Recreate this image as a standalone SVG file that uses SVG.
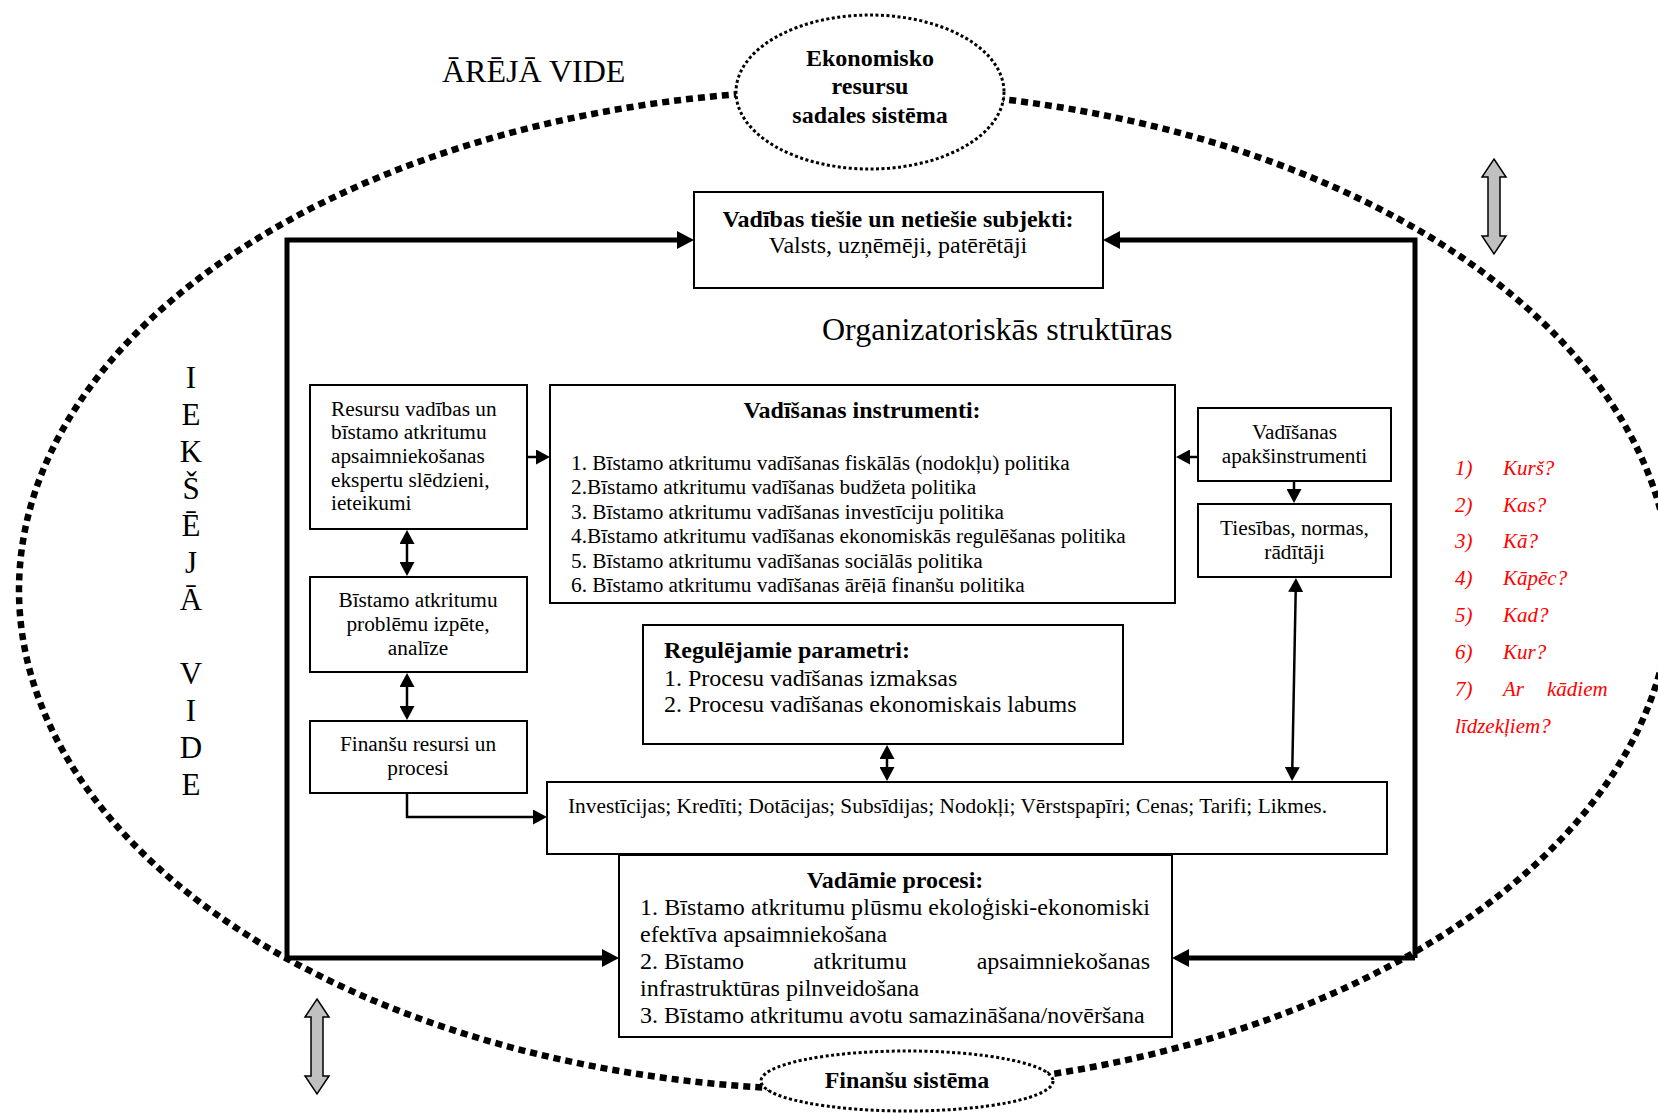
<svg xmlns="http://www.w3.org/2000/svg" width="1658" height="1113" viewBox="0 0 1658 1113">
<style>
text{font-family:'Liberation Serif','Times New Roman',serif;fill:#000}
.box{fill:#fff;stroke:#000;stroke-width:2}
.b{font-weight:bold;font-size:24px}
.t21{font-size:21.3px}
.t24{font-size:24px}
.c{text-anchor:middle}
.red{fill:#ff0000;font-style:italic;font-size:21px}
.thick{fill:none;stroke:#000;stroke-width:5}
.thin{fill:none;stroke:#000;stroke-width:2.5}
.gray{fill:#c0c0c0;stroke:#000;stroke-width:1.5}
</style>
<defs>
<marker id="ahT" markerUnits="userSpaceOnUse" markerWidth="17" markerHeight="18" refX="1" refY="9" orient="auto-start-reverse"><path d="M0,0 L17,9 L0,18 Z" fill="#000"/></marker>
<marker id="ah" markerUnits="userSpaceOnUse" markerWidth="14" markerHeight="15" refX="1" refY="7.5" orient="auto-start-reverse"><path d="M0,0 L14,7.5 L0,15 Z" fill="#000"/></marker>
<clipPath id="instClip"><rect x="551" y="386" width="623" height="207"/></clipPath>
</defs>
<rect width="1658" height="1113" fill="#fff"/>

<g id="environment">
<ellipse cx="845" cy="590" rx="826" ry="500" fill="none" stroke="#000" stroke-width="6.5" stroke-dasharray="7 5"/>
<text x="442" y="82" font-size="32">ĀRĒJĀ VIDE</text>
<g>
<text x="191" y="388" text-anchor="middle" font-size="31">I</text>
<text x="191" y="425" text-anchor="middle" font-size="31">E</text>
<text x="191" y="462" text-anchor="middle" font-size="31">K</text>
<text x="191" y="499" text-anchor="middle" font-size="31">Š</text>
<text x="191" y="536" text-anchor="middle" font-size="31">Ē</text>
<text x="191" y="573" text-anchor="middle" font-size="31">J</text>
<text x="191" y="610" text-anchor="middle" font-size="31">Ā</text>
<text x="191" y="684" text-anchor="middle" font-size="31">V</text>
<text x="191" y="721" text-anchor="middle" font-size="31">I</text>
<text x="191" y="758" text-anchor="middle" font-size="31">D</text>
<text x="191" y="795" text-anchor="middle" font-size="31">E</text>
</g>
<text x="822" y="340" font-size="32">Organizatoriskās struktūras</text>
</g>

<g id="ekonomisko">
<ellipse cx="870" cy="92" rx="134" ry="77" fill="#fff" stroke="#000" stroke-width="3" stroke-dasharray="3 2.5"/>
<text class="b c" x="870" y="66">Ekonomisko</text>
<text class="b c" x="870" y="94">resursu</text>
<text class="b c" x="870" y="123">sadales sistēma</text>
</g>

<g id="finansu-sistema">
<ellipse cx="907" cy="1081" rx="146" ry="30" fill="#fff" stroke="#000" stroke-width="3" stroke-dasharray="3 2.5"/>
<text class="b c" x="907" y="1088">Finanšu sistēma</text>
</g>

<g id="gray-arrows">
<polygon class="gray" points="1494,159 1506,177 1500,177 1500,236 1506,236 1494,254 1482,236 1488,236 1488,177 1482,177"/>
<polygon class="gray" points="317,999 329,1017 323,1017 323,1076 329,1076 317,1094 305,1076 311,1076 311,1017 305,1017"/>
</g>

<g id="connectors">
<path class="thick" d="M287,958 V240 H678" marker-end="url(#ahT)"/>
<path class="thick" d="M287,958 H603" marker-end="url(#ahT)"/>
<path class="thick" d="M1415,958 V240 H1119" marker-end="url(#ahT)"/>
<path class="thick" d="M1415,958 H1188" marker-end="url(#ahT)"/>
<path class="thin" d="M527,457 H537" marker-end="url(#ah)"/>
<path class="thin" d="M407,543 V563" marker-start="url(#ah)" marker-end="url(#ah)"/>
<path class="thin" d="M407,686 V707" marker-start="url(#ah)" marker-end="url(#ah)"/>
<path class="thin" d="M407,793 V817 H534" marker-end="url(#ah)"/>
<path class="thin" d="M1198,457 H1189" marker-end="url(#ah)"/>
<path class="thin" d="M1294,481 V490" marker-end="url(#ah)"/>
<path class="thin" stroke-width="2" d="M1295.7,591 L1292.3,768" marker-start="url(#ah)" marker-end="url(#ah)"/>
<path class="thin" d="M887,758 V768" marker-start="url(#ah)" marker-end="url(#ah)"/>
</g>

<g id="vadibas-subjekti">
<rect class="box" x="694" y="192" width="409" height="96"/>
<text class="b c" x="898" y="227">Vadības tiešie un netiešie subjekti:</text>
<text class="t24 c" x="898" y="253">Valsts, uzņēmēji, patērētāji</text>
</g>

<g id="eksperti">
<rect class="box" x="310" y="385" width="217" height="144"/>
<text class="t21" x="331" y="416">Resursu vadības un</text>
<text class="t21" x="331" y="439">bīstamo atkritumu</text>
<text class="t21" x="331" y="463">apsaimniekošanas</text>
<text class="t21" x="331" y="487">ekspertu slēdzieni,</text>
<text class="t21" x="331" y="510">ieteikumi</text>
</g>

<g id="izpete">
<rect class="box" x="310" y="577" width="217" height="95"/>
<text class="t21 c" x="418" y="607">Bīstamo atkritumu</text>
<text class="t21 c" x="418" y="631">problēmu izpēte,</text>
<text class="t21 c" x="418" y="655">analīze</text>
</g>

<g id="finansu-resursi">
<rect class="box" x="310" y="721" width="217" height="72"/>
<text class="t21 c" x="418" y="751">Finanšu resursi un</text>
<text class="t21 c" x="418" y="775">procesi</text>
</g>

<g id="instrumenti">
<rect class="box" x="550" y="385" width="625" height="218"/>
<text class="b c" x="862" y="418">Vadīšanas instrumenti:</text>
<g clip-path="url(#instClip)">
<text class="t21" x="571" y="470">1. Bīstamo atkritumu vadīšanas fiskālās (nodokļu) politika</text>
<text class="t21" x="571" y="494">2.Bīstamo atkritumu vadīšanas budžeta politika</text>
<text class="t21" x="571" y="519">3. Bīstamo atkritumu vadīšanas investīciju politika</text>
<text class="t21" x="571" y="543">4.Bīstamo atkritumu vadīšanas ekonomiskās regulēšanas politika</text>
<text class="t21" x="571" y="568">5. Bīstamo atkritumu vadīšanas sociālās politika</text>
<text class="t21" x="571" y="592">6. Bīstamo atkritumu vadīšanas ārējā finanšu politika</text>
</g>
</g>

<g id="apakšinstrumenti">
<rect class="box" x="1198" y="408" width="193" height="73"/>
<text class="t21 c" x="1294.5" y="439">Vadīšanas</text>
<text class="t21 c" x="1294.5" y="463">apakšinstrumenti</text>
</g>

<g id="tiesibas">
<rect class="box" x="1198" y="504" width="193" height="73"/>
<text class="t21 c" x="1294.5" y="535">Tiesības, normas,</text>
<text class="t21 c" x="1294.5" y="559">rādītāji</text>
</g>

<g id="parametri">
<rect class="box" x="643" y="625" width="480" height="119"/>
<text class="b" x="664" y="658">Regulējamie parametri:</text>
<text class="t24" x="664" y="686">1. Procesu vadīšanas izmaksas</text>
<text class="t24" x="664" y="712">2. Procesu vadīšanas ekonomiskais labums</text>
</g>

<g id="sviras">
<rect class="box" x="547" y="782" width="840" height="72"/>
<text class="t21" x="568" y="813" textLength="759" lengthAdjust="spacing">Investīcijas; Kredīti; Dotācijas; Subsīdijas; Nodokļi; Vērstspapīri; Cenas; Tarifi; Likmes.</text>
</g>

<g id="vadamie-procesi">
<rect class="box" x="619" y="855" width="553" height="182"/>
<text class="b c" x="895" y="888">Vadāmie procesi:</text>
<text class="t24" x="640" y="915" textLength="510" lengthAdjust="spacing">1. Bīstamo atkritumu plūsmu ekoloģiski-ekonomiski</text>
<text class="t24" x="640" y="942">efektīva apsaimniekošana</text>
<text class="t24" x="640" y="969">2. Bīstamo</text>
<text class="t24 c" x="860" y="969">atkritumu</text>
<text class="t24" x="1150" y="969" text-anchor="end">apsaimniekošanas</text>
<text class="t24" x="640" y="996">infrastruktūras pilnveidošana</text>
<text class="t24" x="640" y="1023">3. Bīstamo atkritumu avotu samazināšana/novēršana</text>
</g>

<g id="jautajumi">
<text class="red" x="1455" y="475">1)</text><text class="red" x="1503" y="475">Kurš?</text>
<text class="red" x="1455" y="512">2)</text><text class="red" x="1503" y="512">Kas?</text>
<text class="red" x="1455" y="548">3)</text><text class="red" x="1503" y="548">Kā?</text>
<text class="red" x="1455" y="585">4)</text><text class="red" x="1503" y="585">Kāpēc?</text>
<text class="red" x="1455" y="622">5)</text><text class="red" x="1503" y="622">Kad?</text>
<text class="red" x="1455" y="659">6)</text><text class="red" x="1503" y="659">Kur?</text>
<text class="red" x="1455" y="696">7)</text><text class="red" x="1503" y="696">Ar</text><text class="red" x="1547" y="696">kādiem</text>
<text class="red" x="1455" y="733">līdzekļiem?</text>
</g>
</svg>
